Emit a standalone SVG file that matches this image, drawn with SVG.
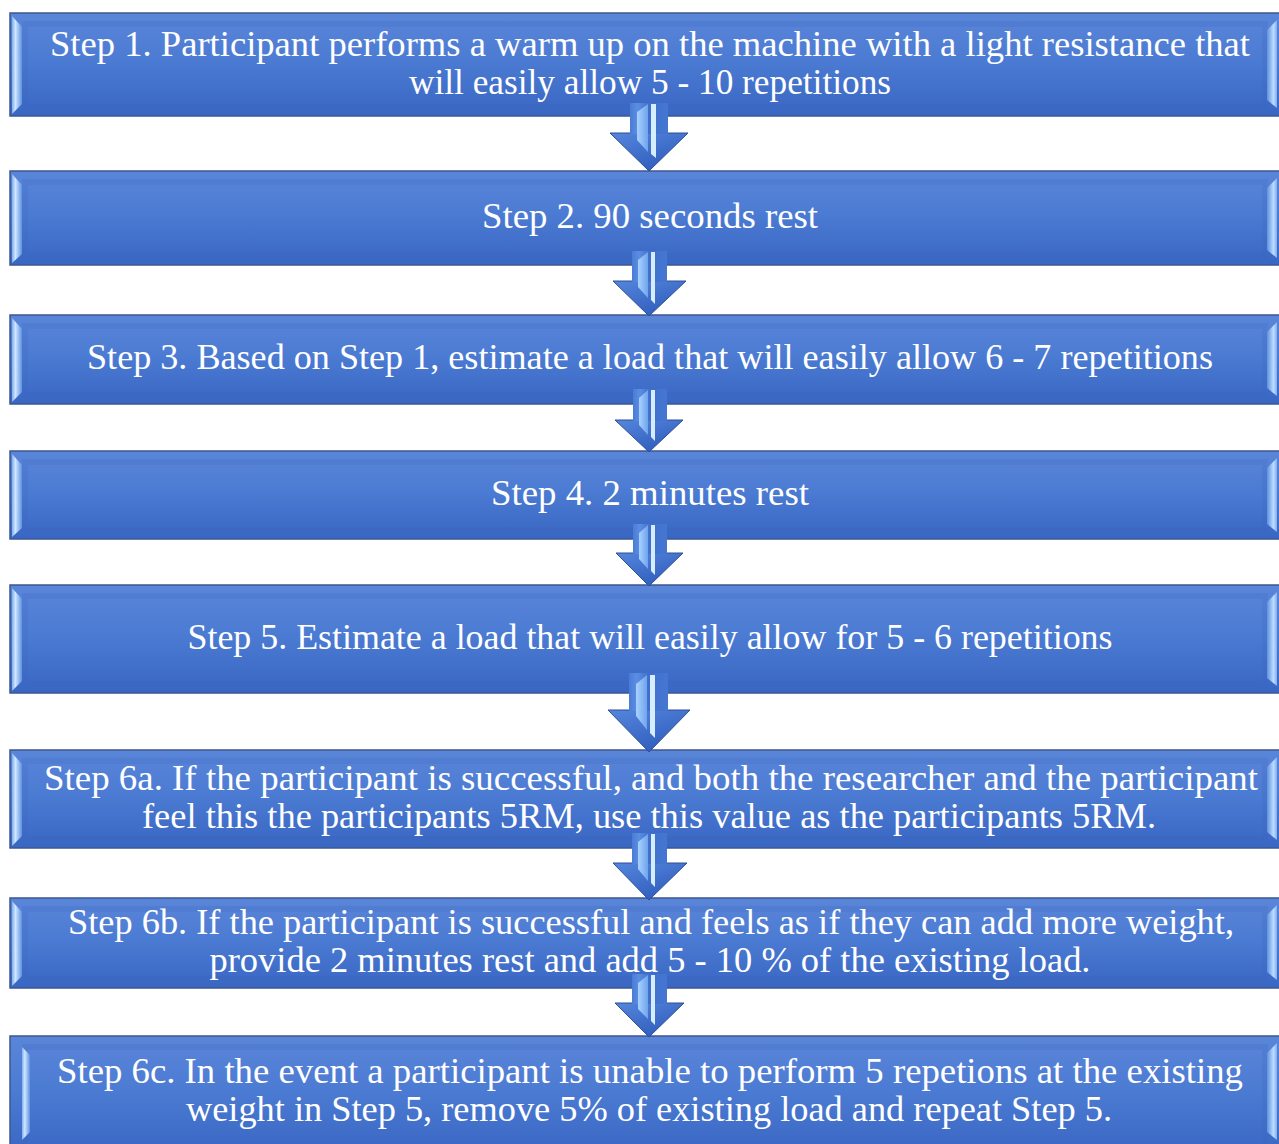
<svg xmlns="http://www.w3.org/2000/svg" width="1279" height="1144" viewBox="0 0 1279 1144">
  <defs>
    <!-- blue step box body -->
    <linearGradient id="boxFill" x1="0" y1="0" x2="0" y2="1">
      <stop offset="0" stop-color="#5a86d9"/>
      <stop offset="0.45" stop-color="#4c7bd3"/>
      <stop offset="1" stop-color="#3866c3"/>
    </linearGradient>
    <!-- light side bevels -->
    <linearGradient id="bevelL" x1="0" y1="0" x2="1" y2="0">
      <stop offset="0" stop-color="#7fb0f0"/>
      <stop offset="0.35" stop-color="#cfe7ff"/>
      <stop offset="1" stop-color="#5f90e0"/>
    </linearGradient>
    <linearGradient id="bevelR" x1="0" y1="0" x2="1" y2="0">
      <stop offset="0" stop-color="#5f90e0"/>
      <stop offset="0.65" stop-color="#bcdcff"/>
      <stop offset="1" stop-color="#7fb0f0"/>
    </linearGradient>
    <!-- arrow pieces -->
    <linearGradient id="headFill" x1="0" y1="0" x2="0.6" y2="1">
      <stop offset="0" stop-color="#5586dc"/>
      <stop offset="1" stop-color="#2f5ebd"/>
    </linearGradient>
    <linearGradient id="shaftFill" x1="0" y1="0" x2="1" y2="0">
      <stop offset="0" stop-color="#4a7cd6"/>
      <stop offset="0.2" stop-color="#5b8ee2"/>
      <stop offset="0.5" stop-color="#3f6fcc"/>
      <stop offset="1" stop-color="#4577d2"/>
    </linearGradient>
    <linearGradient id="facetFill" x1="0" y1="0" x2="1" y2="0">
      <stop offset="0" stop-color="#a8d2ff"/>
      <stop offset="1" stop-color="#6fa3ec"/>
    </linearGradient>
  </defs>
  <style>
    .box { fill: url(#boxFill); stroke: #3e5790; stroke-width: 1.5; }
    .inner { fill: none; stroke: #3a63b8; stroke-width: 6; stroke-opacity: 0.2; }
    .bevL { fill: url(#bevelL); }
    .bevR { fill: url(#bevelR); }
    .label { font-family: "Liberation Serif", "Times New Roman", serif; font-size: 35px; fill: #ffffff; text-anchor: middle; }
    .ahead { fill: url(#headFill); stroke: #2c4f96; stroke-width: 1; }
    .ashaft { fill: url(#shaftFill); }
    .afacet { fill: url(#facetFill); }
    .astripe { fill: #d6ecff; }
  </style>

  <rect width="1279" height="1144" fill="#ffffff"/>

  <!-- step boxes -->
  <g id="step1">
    <rect class="box" x="10" y="13" width="1272" height="103"/>
    <rect class="inner" x="25" y="24" width="1240" height="83"/>
    <polygon class="bevL" points="12,16 22,27 22,104 12,114"/>
    <polygon class="bevR" points="1277,20 1267,30 1267,100 1277,108"/>
    <text class="label" x="650" y="56" textLength="1200" lengthAdjust="spacingAndGlyphs">Step 1. Participant performs a warm up on the machine with a light resistance that</text>
    <text class="label" x="650" y="94" textLength="482" lengthAdjust="spacingAndGlyphs">will easily allow 5 - 10 repetitions</text>
  </g>
  <g id="step2">
    <rect class="box" x="10" y="171" width="1272" height="94"/>
    <rect class="inner" x="25" y="182" width="1240" height="74"/>
    <polygon class="bevL" points="12,174 22,185 22,254 12,263"/>
    <polygon class="bevR" points="1277,178 1267,188 1267,250 1277,258"/>
    <text class="label" x="650" y="228" textLength="336" lengthAdjust="spacingAndGlyphs">Step 2. 90 seconds rest</text>
  </g>
  <g id="step3">
    <rect class="box" x="10" y="315" width="1272" height="89"/>
    <rect class="inner" x="25" y="326" width="1240" height="69"/>
    <polygon class="bevL" points="12,318 22,329 22,392 12,402"/>
    <polygon class="bevR" points="1277,322 1267,332 1267,388 1277,396"/>
    <text class="label" x="650" y="369" textLength="1126" lengthAdjust="spacingAndGlyphs">Step 3. Based on Step 1, estimate a load that will easily allow 6 - 7 repetitions</text>
  </g>
  <g id="step4">
    <rect class="box" x="10" y="451" width="1272" height="88"/>
    <rect class="inner" x="25" y="462" width="1240" height="68"/>
    <polygon class="bevL" points="12,454 22,465 22,528 12,537"/>
    <polygon class="bevR" points="1277,458 1267,468 1267,524 1277,532"/>
    <text class="label" x="650" y="505" textLength="318" lengthAdjust="spacingAndGlyphs">Step 4. 2 minutes rest</text>
  </g>
  <g id="step5">
    <rect class="box" x="10" y="585" width="1272" height="108"/>
    <rect class="inner" x="25" y="596" width="1240" height="88"/>
    <polygon class="bevL" points="12,588 22,599 22,681 12,691"/>
    <polygon class="bevR" points="1277,592 1267,602 1267,678 1277,686"/>
    <text class="label" x="650" y="649" textLength="925" lengthAdjust="spacingAndGlyphs">Step 5. Estimate a load that will easily allow for 5 - 6 repetitions</text>
  </g>
  <g id="step6a">
    <rect class="box" x="10" y="750" width="1272" height="98"/>
    <rect class="inner" x="25" y="761" width="1240" height="78"/>
    <polygon class="bevL" points="12,753 22,764 22,836 12,846"/>
    <polygon class="bevR" points="1277,757 1267,767 1267,832 1277,840"/>
    <text class="label" x="651" y="790" textLength="1214" lengthAdjust="spacingAndGlyphs">Step 6a. If the participant is successful, and both the researcher and the participant</text>
    <text class="label" x="649" y="828" textLength="1014" lengthAdjust="spacingAndGlyphs">feel this the participants 5RM, use this value as the participants 5RM.</text>
  </g>
  <g id="step6b">
    <rect class="box" x="10" y="898" width="1272" height="90"/>
    <rect class="inner" x="25" y="909" width="1240" height="70"/>
    <polygon class="bevL" points="12,901 22,912 22,976 12,986"/>
    <polygon class="bevR" points="1277,905 1267,915 1267,972 1277,980"/>
    <text class="label" x="651" y="934" textLength="1166" lengthAdjust="spacingAndGlyphs">Step 6b. If the participant is successful and feels as if they can add more weight,</text>
    <text class="label" x="650" y="972" textLength="881" lengthAdjust="spacingAndGlyphs">provide 2 minutes rest and add 5 - 10 % of the existing load.</text>
  </g>
  <g id="step6c">
    <rect class="box" x="10" y="1036" width="1272" height="120"/>
    <rect class="inner" x="25" y="1047" width="1240" height="100"/>
    <polygon class="bevL" points="22,1047 30,1055 30,1132 22,1140"/>
    <polygon class="bevR" points="1277,1043 1267,1053 1267,1132 1277,1140"/>
    <text class="label" x="650" y="1083" textLength="1186" lengthAdjust="spacingAndGlyphs">Step 6c. In the event a participant is unable to perform 5 repetions at the existing</text>
    <text class="label" x="649" y="1121" textLength="926" lengthAdjust="spacingAndGlyphs">weight in Step 5, remove 5% of existing load and repeat Step 5.</text>
  </g>

  <!-- down arrows between steps -->
  <g id="connectors">
    <g id="arrow1">
      <polygon class="ahead" points="610,133 688,133 649,171"/>
      <rect class="ashaft" x="630" y="103" width="38" height="31"/>
      <polygon class="afacet" points="637,112 648,104 648,152 637,140"/>
      <polygon class="astripe" points="651,104 656,104 656,158 651,154"/>
    </g>
    <g id="arrow2">
      <polygon class="ahead" points="613,281 686,281 649,316"/>
      <rect class="ashaft" x="632" y="251" width="35" height="31"/>
      <polygon class="afacet" points="638,260 648,252 648,298 638,287"/>
      <polygon class="astripe" points="651,252 655,252 655,304 651,300"/>
    </g>
    <g id="arrow3">
      <polygon class="ahead" points="615,420 683,420 649,452"/>
      <rect class="ashaft" x="633" y="389" width="34" height="32"/>
      <polygon class="afacet" points="639,398 648,390 648,435 639,425"/>
      <polygon class="astripe" points="651,390 655,390 655,441 651,437"/>
    </g>
    <g id="arrow4">
      <polygon class="ahead" points="616,553 683,553 649,586"/>
      <rect class="ashaft" x="633" y="524" width="34" height="30"/>
      <polygon class="afacet" points="639,533 648,525 648,569 639,559"/>
      <polygon class="astripe" points="651,525 655,525 655,575 651,571"/>
    </g>
    <g id="arrow5">
      <polygon class="ahead" points="608,710 690,710 649,752"/>
      <rect class="ashaft" x="629" y="673" width="39" height="38"/>
      <polygon class="afacet" points="636,684 647,675 647,730 636,716"/>
      <polygon class="astripe" points="650,675 655,675 655,738 650,733"/>
    </g>
    <g id="arrow6">
      <polygon class="ahead" points="613,863 687,863 649,900"/>
      <rect class="ashaft" x="632" y="833" width="35" height="31"/>
      <polygon class="afacet" points="638,842 648,834 648,881 638,869"/>
      <polygon class="astripe" points="651,834 655,834 655,887 651,883"/>
    </g>
    <g id="arrow7">
      <polygon class="ahead" points="615,1003 684,1003 649,1037"/>
      <rect class="ashaft" x="632" y="974" width="35" height="30"/>
      <polygon class="afacet" points="638,983 648,975 648,1019 638,1009"/>
      <polygon class="astripe" points="651,975 655,975 655,1025 651,1021"/>
    </g>
  </g>
</svg>
